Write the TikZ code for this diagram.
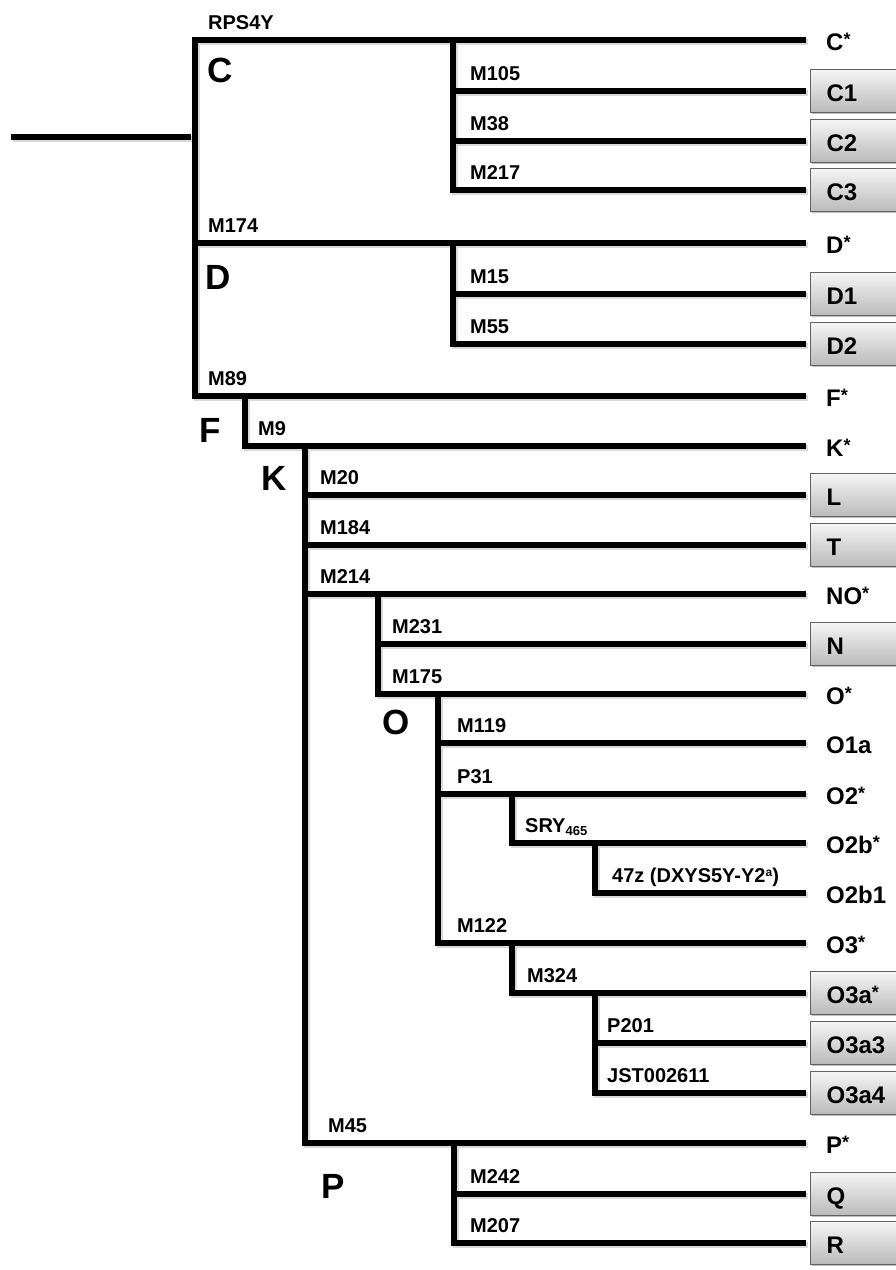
\documentclass[tikz,border=0pt]{standalone}
\usepackage{fontspec}
\setmainfont{Liberation Sans}
\usetikzlibrary{shadows}
\newcommand\mlfont{\fontsize{20}{22}\selectfont\bfseries}
\newcommand\clfont{\fontsize{35}{38}\selectfont\bfseries}
\newcommand\lffont{\fontsize{24}{28}\selectfont\bfseries}
\newcommand\astr{\raisebox{5pt}{\fontsize{18}{18}\selectfont *}}
\newcommand\treelines{%
  \draw[br] (root) -- (jCr);
  \draw[br] (vC) -- (Cs.west);
  \draw[br] (vC) |- (Ds.west);
  \draw[br] (vC) |- (Fs.west);
  \draw[br] (vCs) |- (C1.west);
  \draw[br] (vCs) |- (C2.west);
  \draw[br] (vCs) |- (C3.west);
  \draw[br] (vDs) |- (D1.west);
  \draw[br] (vDs) |- (D2.west);
  \draw[br] (vF) |- (Ks.west);
  \draw[br] (vK) |- (L.west);
  \draw[br] (vK) |- (T.west);
  \draw[br] (vK) |- (NOs.west);
  \draw[br] (vK) |- (Ps.west);
  \draw[br] (vNO) |- (N.west);
  \draw[br] (vNO) |- (Os.west);
  \draw[br] (vO) |- (O1a.west);
  \draw[br] (vO) |- (O2s.west);
  \draw[br] (vO) |- (O3s.west);
  \draw[br] (vO2) |- (O2bs.west);
  \draw[br] (vO2b) |- (O2b1.west);
  \draw[br] (vO3) |- (O3as.west);
  \draw[br] (vO3a) |- (O3a3.west);
  \draw[br] (vO3a) |- (O3a4.west);
  \draw[br] (vP) |- (Q.west);
  \draw[br] (vP) |- (R.west);
}
\begin{document}
\begin{tikzpicture}[x=1pt,y=-1pt,
  br/.style={line width=6pt, line join=miter, line cap=rect, draw=black, shorten >=7pt},
  ml/.style={anchor=base west, inner sep=0pt, font=\mlfont},
  cl/.style={anchor=base west, inner sep=0pt, font=\clfont},
  leaf/.style={anchor=west, inner xsep=16pt, inner ysep=0pt, text width=84pt,
    minimum height=43pt, text height=21pt, text depth=0pt, font=\lffont},
  boxed/.style={leaf, draw=black!62, line width=1.2pt, top color=black!4, bottom color=black!27,
    drop shadow={shadow xshift=1.5pt, shadow yshift=-1.5pt, opacity=0.25, fill=black}}]
\useasboundingbox (0,0) rectangle (896,1270);
\fill[white] (0,0) rectangle (896,1270);

% junction coordinates
\coordinate (root) at (14,137);
\coordinate (jCr) at (195,137);
\coordinate (vC) at (195,40);
\coordinate (vCs) at (453,40);
\coordinate (vDs) at (453,243);
\coordinate (vF) at (245,396);
\coordinate (vK) at (305,446);
\coordinate (vNO) at (378,594);
\coordinate (vO) at (438,694);
\coordinate (vO2) at (512,794);
\coordinate (vO2b) at (595,843);
\coordinate (vO3) at (512,943);
\coordinate (vO3a) at (595,993);
\coordinate (vP) at (454,1143);

% leaves
\node[leaf]  (Cs)   at (810,40)   {C\astr};
\node[boxed] (C1)   at (810,91)   {C1};
\node[boxed] (C2)   at (810,141)  {C2};
\node[boxed] (C3)   at (810,190)  {C3};
\node[leaf]  (Ds)   at (810,243)  {D\astr};
\node[boxed] (D1)   at (810,294)  {D1};
\node[boxed] (D2)   at (810,344)  {D2};
\node[leaf]  (Fs)   at (810,396)  {F\astr};
\node[leaf]  (Ks)   at (810,446)  {K\astr};
\node[boxed] (L)    at (810,495)  {L};
\node[boxed] (T)    at (810,545)  {T};
\node[leaf]  (NOs)  at (810,594)  {NO\astr};
\node[boxed] (N)    at (810,644)  {N};
\node[leaf]  (Os)   at (810,694)  {O\astr};
\node[leaf]  (O1a)  at (810,743)  {O1a};
\node[leaf]  (O2s)  at (810,794)  {O2\astr};
\node[leaf]  (O2bs) at (810,843)  {O2b\astr};
\node[leaf]  (O2b1) at (810,893)  {O2b1};
\node[leaf]  (O3s)  at (810,943)  {O3\astr};
\node[boxed] (O3as) at (810,993)  {O3a\astr};
\node[boxed] (O3a3) at (810,1043) {O3a3};
\node[boxed] (O3a4) at (810,1093) {O3a4};
\node[leaf]  (Ps)   at (810,1143) {P\astr};
\node[boxed] (Q)    at (810,1194) {Q};
\node[boxed] (R)    at (810,1243) {R};

% shadow pass, then lines
\begin{scope}[transform canvas={shift={(1.5pt,-1.8pt)}}, br/.style={line width=6pt, line join=miter, line cap=rect, draw=black!15, shorten >=7pt}]
\treelines
\end{scope}
\treelines

% branch labels
\node[ml] (lRPS) at (208,29)  {RPS4Y};
\node[ml] (l105) at (470,80)  {M105};
\node[ml] (l38)  at (470,130) {M38};
\node[ml] (l217) at (470,179) {M217};
\node[ml] (l174) at (208,232) {M174};
\node[ml] (l15)  at (470,283) {M15};
\node[ml] (l55)  at (470,333) {M55};
\node[ml] (l89)  at (208,385) {M89};
\node[ml] (l9)   at (258,435) {M9};
\node[ml] (l20)  at (320,484) {M20};
\node[ml] (l184) at (320,534) {M184};
\node[ml] (l214) at (320,583) {M214};
\node[ml] (l231) at (392,633) {M231};
\node[ml] (l175) at (392,683) {M175};
\node[ml] (l119) at (457,732) {M119};
\node[ml] (lP31) at (457,783) {P31};
\node[ml] (lSRY) at (525,832) {SRY\raisebox{-3.5pt}{\fontsize{13}{13}\selectfont 465}};
\node[ml] (l47z) at (612,882) {47z (DXYS5Y-Y2\raisebox{6pt}{\fontsize{12}{12}\selectfont a})};
\node[ml] (l122) at (457,932) {M122};
\node[ml] (l324) at (527,982) {M324};
\node[ml] (lP201) at (607,1032) {P201};
\node[ml] (lJST) at (607,1082) {JST002611};
\node[ml] (l45)  at (328,1132) {M45};
\node[ml] (l242) at (470,1183) {M242};
\node[ml] (l207) at (470,1232) {M207};

% clade labels
\node[cl] (cC) at (207,82)   {C};
\node[cl] (cD) at (205,289)  {D};
\node[cl] (cF) at (199,442)  {F};
\node[cl] (cK) at (261,490)  {K};
\node[cl] (cO) at (382,734)  {O};
\node[cl] (cP) at (321,1198) {P};
\end{tikzpicture}
\end{document}
